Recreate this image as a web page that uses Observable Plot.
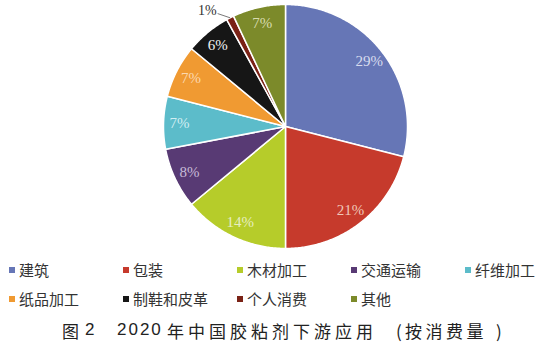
<!DOCTYPE html>
<html>
<head>
<meta charset="utf-8">
<script src="https://cdn.jsdelivr.net/npm/d3@7"></script>
<script src="https://cdn.jsdelivr.net/npm/@observablehq/plot@0.6"></script>
<style>
  html, body { margin: 0; padding: 0; background: #fff; }
  #wrap { position: relative; width: 553px; height: 355px; overflow: hidden; }
  #legend { position: absolute; left: 9px; top: 255px; display: grid;
    grid-template-columns: 114px 114px 114px 114px 114px; grid-auto-rows: 29px;
    font-family: "Noto Sans CJK SC", sans-serif; font-size: 15px; color: #333; }
  .item { display: flex; align-items: center; white-space: nowrap; }
  .sw { width: 6px; height: 6px; margin-right: 4px; flex: none; }
  #caption { position: absolute; left: 0; top: 318px; width: 553px; height: 26px;
    font-family: "Noto Sans CJK SC", sans-serif; font-size: 17px; color: #222; }
  #caption span { position: absolute; top: 0; white-space: pre; }
</style>
</head>
<body>
<div id="wrap">
  <div id="chart"></div>
  <div id="legend"></div>
  <div id="caption"></div>
</div>
<script>
const categories = ["建筑", "包装", "木材加工", "交通运输", "纤维加工", "纸品加工", "制鞋和皮革", "个人消费", "其他"];
const shares = [29, 21, 14, 8, 7, 7, 6, 1, 7];
const colors = ["#6676b6", "#c63a2c", "#b6cc2a", "#583a74", "#5cbcca", "#f09a32", "#161616", "#7a2216", "#7c8a2a"];
const labelColors = ["#d8dcee", "#f0c8b8", "#e6eec0", "#c8bcd8", "#d2eef2", "#fbd8b0", "#f2f2f2", "#5a4a20", "#d8dcb0"];
const captionParts = ["图", "2", "2020", "年中国胶粘剂下游应用", "(", "按消费量", ")"];

const data = categories.map((c, i) => ({category: c, value: shares[i]}));
const arcs = d3.pie().sort(null).value(d => d.value)(data);

// polygon vertices for each slice (unit circle, angle clockwise from 12 o'clock)
const poly = [];
arcs.forEach(a => {
  const c = a.data.category;
  poly.push({category: c, x: 0, y: 0});
  const n = Math.max(2, Math.ceil((a.endAngle - a.startAngle) / 0.01));
  for (let k = 0; k <= n; k++) {
    const t = a.startAngle + (a.endAngle - a.startAngle) * k / n;
    poly.push({category: c, x: Math.sin(t), y: Math.cos(t)});
  }
  poly.push({category: c, x: 0, y: 0});
});

const labels = arcs.filter(a => a.data.value > 1).map(a => {
  const m = (a.startAngle + a.endAngle) / 2;
  return {category: a.data.category, text: a.data.value + "%", x: 0.87 * Math.sin(m), y: 0.87 * Math.cos(m)};
});
const small = arcs.filter(a => a.data.value <= 1).map(a => {
  const m = (a.startAngle + a.endAngle) / 2;
  const m2 = m - 0.07;
  return {category: a.data.category, text: a.data.value + "%",
    x1: Math.sin(m), y1: Math.cos(m), x2: 1.08 * Math.sin(m2), y2: 1.08 * Math.cos(m2)};
});

const color = {domain: categories, range: colors};
const labelColor = Object.fromEntries(categories.map((c, i) => [c, labelColors[i]]));

const chart = Plot.plot({
  width: 553, height: 255, margin: 0,
  x: {domain: [-1, 1], range: [163, 407], axis: null},
  y: {domain: [-1, 1], range: [248, 4], axis: null},
  color,
  marks: [
    Plot.line(poly, {x: "x", y: "y", z: "category", fill: "category", stroke: "#fff", strokeWidth: 1.5, strokeLinejoin: "round", curve: "linear"}),
    Plot.text(labels, {x: "x", y: "y", text: "text", fill: d => labelColor[d.category], fontFamily: "Liberation Serif", fontSize: 15}),
    Plot.link(small, {x1: "x1", y1: "y1", x2: "x2", y2: "y2", stroke: "#555", strokeWidth: 0.8}),
    Plot.text(small, {x: "x2", y: "y2", text: "text", textAnchor: "end", dx: -1, dy: -3, fill: "#333", fontFamily: "Liberation Serif", fontSize: 14})
  ]
});
document.getElementById("chart").append(chart);

const legend = document.getElementById("legend");
categories.forEach((c, i) => {
  const it = document.createElement("div");
  it.className = "item";
  if (i === 5) it.style.gridColumn = "1";
  const sw = document.createElement("span");
  sw.className = "sw"; sw.style.background = colors[i];
  const tx = document.createElement("span");
  tx.textContent = c;
  it.append(sw, tx);
  legend.append(it);
});

// caption pieces: left edge (px) and letter spacing (px)
const capLayout = [[62, 0], [85, 0], [117, 2], [167, 4], [396, 0], [405, 3.5], [496, 0]];
const cap = document.getElementById("caption");
captionParts.forEach((t, i) => {
  const s = document.createElement("span");
  s.textContent = t;
  s.style.left = capLayout[i][0] + "px";
  s.style.letterSpacing = capLayout[i][1] + "px";
  if (/^[0-9]+$/.test(t)) { s.style.fontFamily = "Liberation Sans, sans-serif"; s.style.fontSize = "17px"; s.style.top = "2px"; }
  cap.append(s);
});
</script>
</body>
</html>
